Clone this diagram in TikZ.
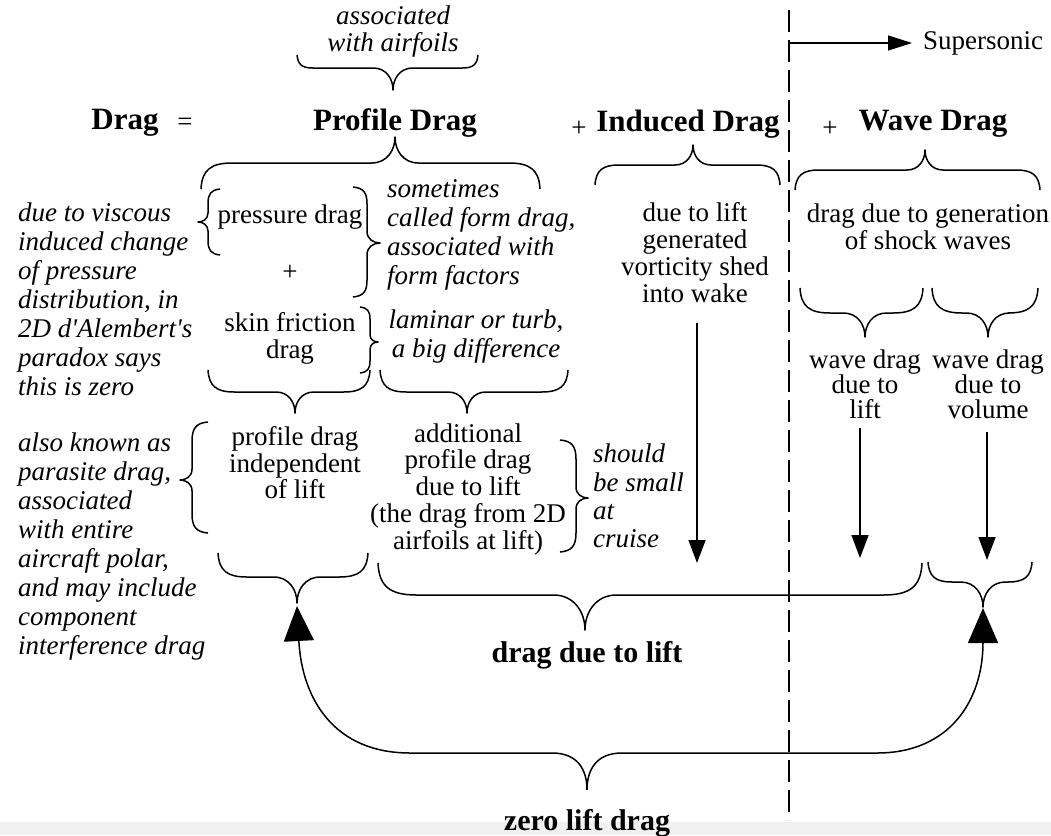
\documentclass[tikz,border=0pt]{standalone}
\usepackage{fontspec}
\setmainfont{Liberation Serif}[Ligatures=TeXOff]
\usetikzlibrary{arrows.meta}
% horizontal brace: x1, x2, xtip, yend, ybody, ytip
\newcommand\hbrc[6]{%
  \draw[brc] (#1,#4) .. controls ({#1+1},{#5+0.25*(#4-#5)}) and ({#1+0.4*abs(#4-#5)},#5) .. ({#1+1.2*abs(#4-#5)},#5)
    -- ({#3-0.9*abs(#6-#5)},#5) .. controls ({#3-0.3*abs(#6-#5)},#5) and (#3,{0.5*(#5+#6)}) .. (#3,#6)
    .. controls (#3,{0.5*(#5+#6)}) and ({#3+0.3*abs(#6-#5)},#5) .. ({#3+0.9*abs(#6-#5)},#5)
    -- ({#2-1.2*abs(#4-#5)},#5) .. controls ({#2-0.4*abs(#4-#5)},#5) and ({#2-1},{#5+0.25*(#4-#5)}) .. (#2,#4);}
% vertical brace: y1, y2, ytip, xend, xbody, xtip
\newcommand\vbrc[6]{%
  \draw[brc] (#4,#1) .. controls ({#5+0.25*(#4-#5)},{#1+1}) and (#5,{#1+0.4*abs(#4-#5)}) .. (#5,{#1+1.2*abs(#4-#5)})
    -- (#5,{#3-0.9*abs(#6-#5)}) .. controls (#5,{#3-0.3*abs(#6-#5)}) and ({0.5*(#5+#6)},#3) .. (#6,#3)
    .. controls ({0.5*(#5+#6)},#3) and (#5,{#3+0.3*abs(#6-#5)}) .. (#5,{#3+0.9*abs(#6-#5)})
    -- (#5,{#2-1.2*abs(#4-#5)}) .. controls (#5,{#2-0.4*abs(#4-#5)}) and ({#5+0.25*(#4-#5)},{#2-1}) .. (#4,#2);}
\begin{document}
\begin{tikzpicture}[x=1pt,y=-1pt,
  brc/.style={line width=1.5pt, line join=round},
  arr/.style={line width=1.5pt, -{Triangle[length=23pt,width=17pt]}},
  sarr/.style={line width=1.5pt, -{Triangle[length=24pt,width=15pt]}},
  big/.style={line width=1.5pt, {Triangle[length=35pt,width=30pt]}-{Triangle[length=35pt,width=30pt]}},
  dsh/.style={line width=1.5pt, dash pattern=on 22pt off 8pt},
  txt/.style={font=\fontsize{27}{27}\selectfont, align=center, inner sep=0pt},
  tght/.style={font=\fontsize{27}{24.5}\selectfont, align=center, inner sep=0pt},
  itx/.style={font=\fontsize{27}{29}\selectfont\itshape, align=left, inner sep=0pt, anchor=west},
  hdr/.style={font=\fontsize{31}{31}\selectfont\bfseries, inner sep=0pt},
  bhd/.style={font=\fontsize{30}{30}\selectfont\bfseries, inner sep=0pt}]
\useasboundingbox (0,0) rectangle (1051,835);
\fill[black!6] (0,822) rectangle (1051,835);

% dashed separator and supersonic arrow
\coordinate (dtop) at (789,10);
\coordinate (dbot) at (789,820);
\draw[dsh] (dtop) -- (dbot);
\coordinate (ss0) at (789,43);
\node[txt] (super) at (983,43) {Supersonic};
\coordinate (ss1) at (912,43);
\draw[sarr] (ss0) -- (ss1);

% headings
\node[txt, font=\fontsize{27}{27}\selectfont\itshape] (assoc) at (393,32) {associated\\with airfoils};
\node[hdr] (drag) at (125,123) {Drag};
\node[txt] (eq) at (185,124) {=};
\node[hdr] (prof) at (395,123) {Profile Drag};
\node[txt] (plus1) at (579,129) {+};
\node[hdr] (ind) at (688,124) {Induced Drag};
\node[txt] (plus2) at (830,129) {+};
\node[hdr] (wave) at (933,124) {Wave Drag};

% top braces
\hbrc{297}{478}{393}{55}{68}{90}
\hbrc{201}{540}{395}{189}{163}{137}
\hbrc{595}{780}{693}{185}{165}{145}
\hbrc{795}{1040}{925}{190}{170}{150}

% profile drag breakdown
\node[itx] (visc) at (18,299) {due to viscous\\induced change\\of pressure\\distribution, in\\2D d'Alembert's\\paradox says\\this is zero};
\node[txt] (press) at (290,217) {pressure drag};
\node[txt] (plus3) at (290,273) {+};
\node[txt] (skin) at (290,338) {skin friction\\drag};
\node[itx] (form) at (387,235) {sometimes\\called form drag,\\associated with\\form factors};
\node[txt, font=\fontsize{27}{29}\selectfont\itshape] (lam) at (476,337) {laminar or turb,\\a big difference};
\vbrc{189}{255}{222}{220}{208}{198}
\vbrc{187}{297}{243}{353}{367}{380}
\vbrc{307}{373}{342}{360}{370}{378}
\hbrc{208}{370}{295}{370}{392}{413}
\hbrc{380}{568}{467}{370}{392}{413}

% induced
\node[txt] (indtxt) at (695,253) {due to lift\\generated\\vorticity shed\\into wake};
\coordinate (ia0) at (697,323);
\coordinate (ia1) at (697,563);
\draw[arr] (ia0) -- (ia1);

% wave
\node[txt] (shock) at (928,227) {drag due to generation\\of shock waves};
\hbrc{800}{923}{865}{288}{313}{337}
\hbrc{932}{1038}{988}{288}{313}{337}
\node[tght] (wlift) at (865,384) {wave drag\\due to\\lift};
\node[tght] (wvol) at (988,384) {wave drag\\due to\\volume};
\coordinate (wa0) at (860,428);
\coordinate (wa1) at (860,558);
\draw[arr] (wa0) -- (wa1);
\coordinate (wb0) at (987,432);
\coordinate (wb1) at (987,560);
\draw[arr] (wb0) -- (wb1);

% second level
\node[itx] (para) at (18,546) {also known as\\parasite drag,\\associated\\with entire\\aircraft polar,\\and may include\\component\\interference drag};
\node[txt, font=\fontsize{27}{26.5}\selectfont] (indep) at (295,463) {profile drag\\independent\\of lift};
\node[txt, font=\fontsize{27}{26.75}\selectfont] (addl) at (468,489) {additional\\profile drag\\due to lift\\(the drag from 2D\\airfoils at lift)};
\node[itx, font=\fontsize{27}{28.3}\selectfont\itshape] (small) at (593,496) {should\\be small\\at\\cruise};
\vbrc{422}{533}{480}{208}{192}{180}
\vbrc{440}{552}{498}{560}{576}{588}

% bottom braces
\hbrc{218}{368}{297}{553}{577}{603}
\hbrc{378}{922}{585}{563}{595}{630}
\hbrc{928}{1032}{983}{562}{582}{607}
\node[bhd] (ddl) at (587,655) {drag due to lift};

% zero lift drag brace with arrows
\coordinate (zl) at (297,606);
\coordinate (zr) at (983,608);
\coordinate (zt) at (587,790);
\draw[big] (zl) .. controls (302,700) and (335,753) .. (410,753) -- (552,753)
  .. controls (578,753) and (587,770) .. (zt)
  .. controls (587,770) and (596,753) .. (622,753) -- (877,753)
  .. controls (950,753) and (983,700) .. (zr);
\node[bhd] (zld) at (587,823) {zero lift drag};
\end{tikzpicture}
\end{document}
